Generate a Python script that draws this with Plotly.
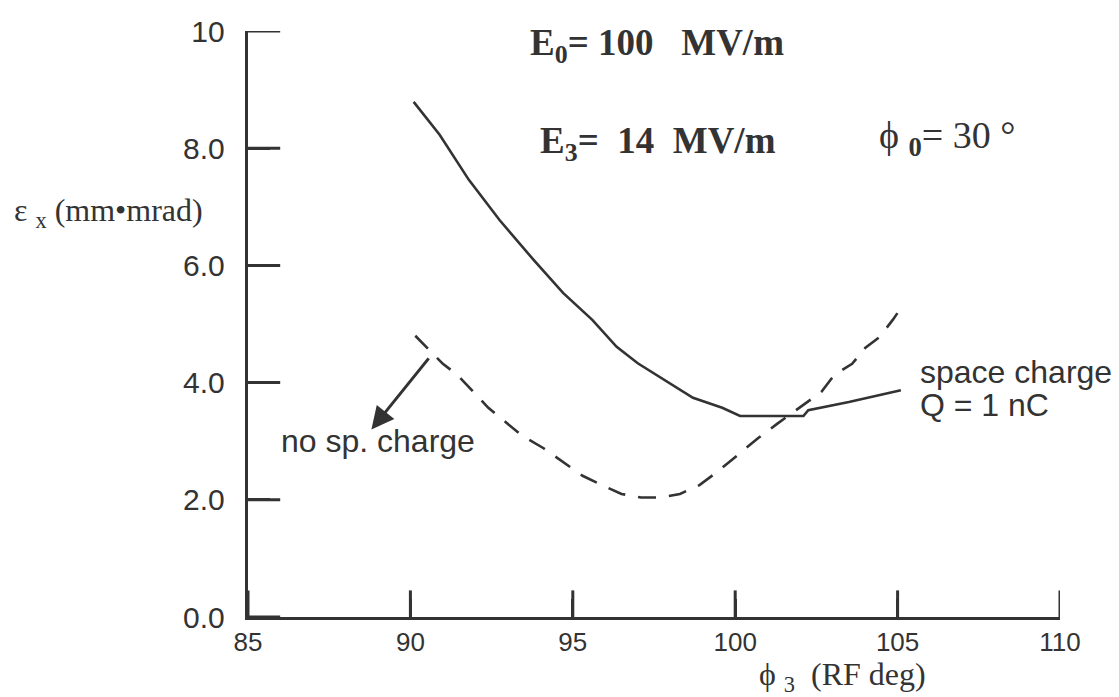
import plotly.graph_objects as go

# Emittance vs. phase of the third cell, with and without space charge
phi3_sc = [90.1, 90.9, 91.8, 92.75, 93.8, 94.7, 95.6, 96.35, 97.0, 98.0, 98.7, 99.6, 100.15, 102.1, 102.25, 103.5, 105.1]
eps_sc = [8.79, 8.23, 7.46, 6.77, 6.09, 5.53, 5.07, 4.61, 4.33, 3.99, 3.74, 3.57, 3.43, 3.43, 3.53, 3.67, 3.87]

phi3_nosc = [90.15, 90.65, 91.0, 91.45, 91.9, 92.4, 92.9, 93.45, 94.1, 94.65, 95.3, 95.9, 96.5, 97.1, 97.7, 98.3,
             98.9, 99.5, 100.1, 100.7, 101.3, 101.8, 102.2, 102.65, 103.05, 103.6, 104.0, 104.45, 104.85, 105.15]
eps_nosc = [4.80, 4.51, 4.32, 4.13, 3.86, 3.57, 3.34, 3.09, 2.88, 2.66, 2.41, 2.25, 2.10, 2.04, 2.04, 2.10,
            2.25, 2.50, 2.78, 3.05, 3.30, 3.50, 3.65, 3.84, 4.13, 4.32, 4.59, 4.78, 5.07, 5.31]

x_ticks = [85, 90, 95, 100, 105, 110]
x_tick_text = ["85", "90", "95", "100", "105", "110"]
y_ticks = [0, 2, 4, 6, 8, 10]
y_tick_text = ["0.0", "2.0", "4.0", "6.0", "8.0", "10"]

INK = "#333333"
SANS = "Liberation Sans, Arial, sans-serif"
SERIF = "Liberation Serif, Times New Roman, serif"
NB = "\u00a0"

W, H = 1119, 697
L, R, T, B = 248, 59, 31, 80


def px(x):
    """Horizontal page pixel -> paper fraction."""
    return (x - L) / (W - L - R)


def py(y):
    """Vertical page pixel -> paper fraction."""
    return (H - B - y) / (H - T - B)


fig = go.Figure()
fig.add_trace(go.Scatter(x=phi3_sc, y=eps_sc, mode="lines",
                         line=dict(color=INK, width=2.6), showlegend=False))
fig.add_trace(go.Scatter(x=phi3_nosc, y=eps_nosc, mode="lines",
                         line=dict(color=INK, width=2.6, dash="18px,13px"), showlegend=False))

# inward tick marks; the half falling outside the plot area is clipped away
fig.add_trace(go.Scatter(x=x_ticks, y=[0] * len(x_ticks), mode="markers", hoverinfo="skip",
                         marker=dict(symbol="line-ns", size=38, line=dict(color=INK, width=3)),
                         cliponaxis=True, showlegend=False))
fig.add_trace(go.Scatter(x=[85] * len(y_ticks), y=y_ticks, mode="markers", hoverinfo="skip",
                         marker=dict(symbol="line-ew", size=46, line=dict(color=INK, width=3)),
                         cliponaxis=True, showlegend=False))


def label(x, y, text, font, xanchor="left", yanchor="middle"):
    return dict(x=px(x), y=py(y), xref="paper", yref="paper", xanchor=xanchor, yanchor=yanchor,
                text=text, showarrow=False, font=font)


serif_bold = dict(family=SERIF, size=37, color=INK)
serif = dict(family=SERIF, size=32, color=INK)
sans = dict(family=SANS, size=32, color=INK)

annotations = [
    # run parameters
    label(528, 20, f"<b>E<sub>0</sub>= 100{NB*3}MV/m</b>", serif_bold, yanchor="top"),
    label(538, 118, f"<b>E<sub>3</sub>={NB*2}14{NB*2}MV/m</b>", serif_bold, yanchor="top"),
    label(877, 112, f"\u03d5{NB}<sub><b>0</b></sub>= 30{NB}\u00b0", dict(family=SERIF, size=38, color=INK),
          yanchor="top"),
    # curve labels
    label(918, 372, "space charge", sans),
    label(918, 405, "Q = 1 nC", sans),
    label(279, 441, "no sp. charge", sans),
    # axis titles
    label(205, 212, f"\u03b5{NB}<sub>x</sub>{NB}(mm\u2022mrad)", serif, xanchor="right"),
    label(757, 676, f"\u03d5{NB}<sub>3</sub>{NB*2}(RF deg)", serif),
    # arrow pointing to the no-space-charge curve label
    dict(x=88.8, y=3.2, xref="x", yref="y", ax=90.6, ay=4.44, axref="x", ayref="y",
         text="", showarrow=True, arrowhead=2, arrowsize=1.5, arrowwidth=3, arrowcolor=INK),
]

fig.update_layout(
    width=W, height=H,
    margin=dict(l=L, r=R, t=T, b=B),
    paper_bgcolor="white", plot_bgcolor="white",
    annotations=annotations,
    xaxis=dict(range=[85, 110], tickvals=x_ticks, ticktext=x_tick_text,
               showline=True, linecolor=INK, linewidth=3, showgrid=False, zeroline=False,
               ticks="inside", ticklen=18, tickwidth=3, tickcolor=INK,
               tickfont=dict(family=SANS, size=26, color=INK)),
    yaxis=dict(range=[0, 10], tickvals=y_ticks, ticktext=[t + NB + "\u2009" for t in y_tick_text],
               showline=True, linecolor=INK, linewidth=3, showgrid=False, zeroline=False,
               ticks="inside", ticklen=22, tickwidth=3, tickcolor=INK,
               tickfont=dict(family=SANS, size=30, color=INK)),
)

fig.write_html("out.html")
